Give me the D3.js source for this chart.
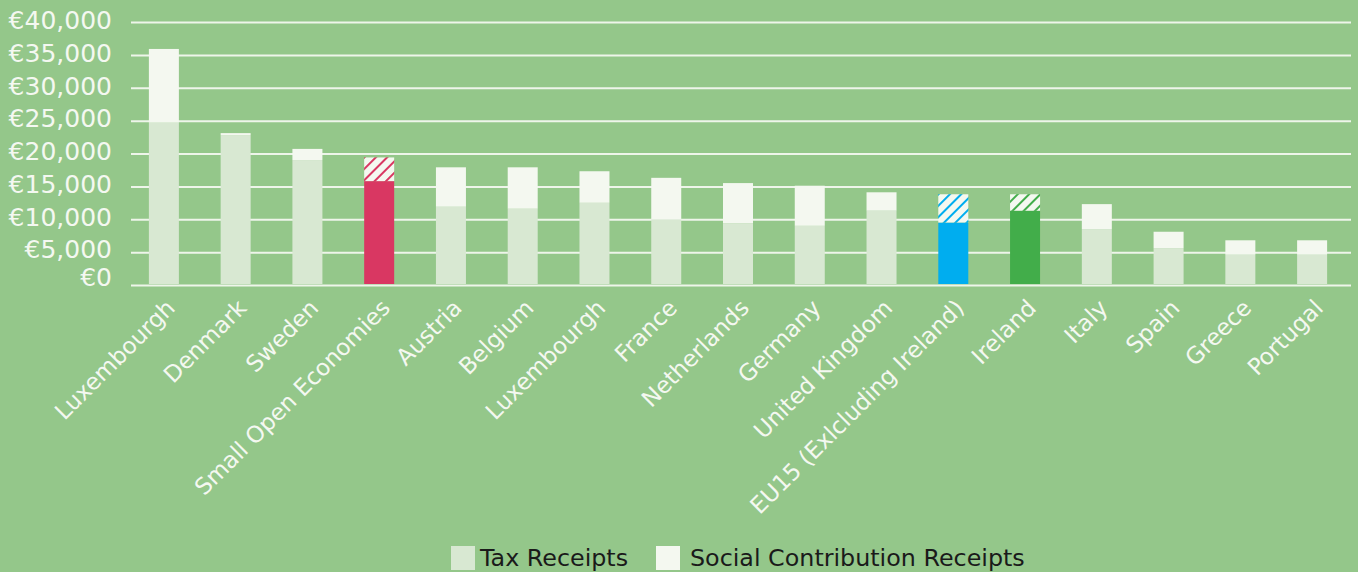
<!DOCTYPE html>
<html>
<head>
<meta charset="utf-8">
<script src="https://cdn.jsdelivr.net/npm/d3@7"></script>
<style>
  html, body { margin: 0; padding: 0; background: #94c78a; }
  svg { display: block; }
  text { font-family: "DejaVu Sans", sans-serif; }
</style>
</head>
<body>
<svg id="chart" width="1358" height="572"></svg>
<script>
// ---- data ----
const categories = ["Luxembourgh", "Denmark", "Sweden", "Small Open Economies", "Austria", "Belgium",
  "Luxembourgh", "France", "Netherlands", "Germany", "United Kingdom", "EU15 (Exlcluding Ireland)",
  "Ireland", "Italy", "Spain", "Greece", "Portugal"];
const taxReceipts = [24700, 22800, 19000, 15800, 11900, 11600, 12500, 10000, 9400, 9000, 11300, 9500,
  11300, 8500, 5600, 4600, 4600];
const socialReceipts = [11200, 300, 1700, 3600, 6000, 6300, 4800, 6300, 6100, 6100, 2800, 4300,
  2500, 3800, 2500, 2200, 2200];
const highlight = [null, null, null, "red", null, null, null, null, null, null, null, "blue",
  "green", null, null, null, null];
const yTicks = [0, 5000, 10000, 15000, 20000, 25000, 30000, 35000, 40000];
const legendLabels = ["Tax Receipts", "Social Contribution Receipts"];

// ---- styles ----
const colors = { bg: "#94c78a", tax: "#d8e8d2", social: "#f4f8f0", grid: "#eef5ea", text: "#f4f8f1",
  red: "#d93762", blue: "#00adef", green: "#42ad4a" };

const svg = d3.select("#chart");
const x0 = 131, x1 = 1351;
const x = d3.scaleBand().domain(d3.range(categories.length)).range([128, 1348]).paddingInner(0.582).paddingOuter(0.291);
const y = d3.scaleLinear().domain([0, 40000]).range([285, 22]);

// hatch patterns
const defs = svg.append("defs");
["red", "blue", "green"].forEach(c => {
  const p = defs.append("pattern").attr("id", "hatch-" + c).attr("patternUnits", "userSpaceOnUse")
    .attr("width", 8).attr("height", 8).attr("patternTransform", "rotate(45)");
  p.append("rect").attr("width", 8).attr("height", 8).attr("fill", colors.social);
  p.append("line").attr("x1", 1).attr("y1", 0).attr("x2", 1).attr("y2", 8)
    .attr("stroke", colors[c]).attr("stroke-width", 2);
});

// gridlines
const grid = svg.append("g").attr("transform", `translate(${x0},0)`)
  .call(d3.axisLeft(y).tickValues(yTicks).tickSize(-(x1 - x0)).tickFormat(""));
grid.select(".domain").remove();
grid.selectAll(".tick line").attr("stroke", colors.grid).attr("stroke-width", 2);

// y labels
svg.append("g").selectAll("text").data(yTicks).join("text")
  .attr("x", 112)
  .attr("y", d => d === 0 ? y(d) - 8 : (d === 5000 ? y(d) - 3 : y(d) - 2))
  .attr("dy", "0.35em")
  .attr("text-anchor", "end")
  .attr("fill", colors.text)
  .attr("font-size", 25)
  .text(d => "€" + d3.format(",")(d));

// bars
const bars = svg.append("g");
categories.forEach((c, i) => {
  const bx = x(i), bw = x.bandwidth();
  const h = highlight[i];
  bars.append("rect").attr("x", bx).attr("width", bw)
    .attr("y", y(taxReceipts[i])).attr("height", y(0) - y(taxReceipts[i]) - 1)
    .attr("fill", h ? colors[h] : colors.tax);
  const top = taxReceipts[i] + socialReceipts[i];
  bars.append("rect").attr("x", bx).attr("width", bw)
    .attr("y", y(top)).attr("height", y(taxReceipts[i]) - y(top))
    .attr("fill", h ? `url(#hatch-${h})` : colors.social);
});

// x labels
svg.append("g").selectAll("text").data(categories).join("text")
  .attr("transform", (d, i) => `translate(${x(i) + x.bandwidth() / 2 + 1},${298}) rotate(-45)`)
  .attr("text-anchor", "end")
  .attr("dy", "0.7em")
  .attr("fill", colors.text)
  .attr("font-size", 23)
  .text(d => d);

// legend
const legend = svg.append("g");
const legendX = [451, 656];
const legendTextX = [480, 690];
legendLabels.forEach((l, i) => {
  legend.append("rect").attr("x", legendX[i]).attr("y", 546).attr("width", 24).attr("height", 24)
    .attr("fill", i === 0 ? colors.tax : colors.social);
  legend.append("text").attr("x", legendTextX[i]).attr("y", 566)
    .attr("fill", "#1a1a1a").attr("font-size", 23.8).text(l);
});
</script>
</body>
</html>
